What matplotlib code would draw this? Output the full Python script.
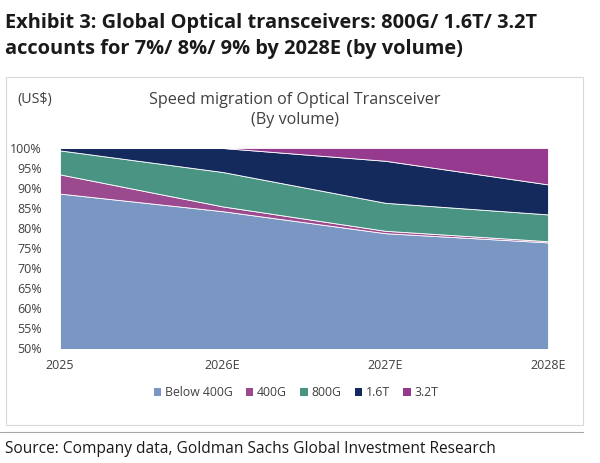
import matplotlib
matplotlib.use("Agg")
import matplotlib.pyplot as plt
from matplotlib.patches import Rectangle
from matplotlib.lines import Line2D
import numpy as np

years = ["2025", "2026E", "2027E", "2028E"]
below_400g = [88.6, 84.2, 78.7, 76.4]
g400 = [4.8, 1.2, 0.6, 0.3]
g800 = [6.0, 8.6, 7.0, 6.7]
t16 = [0.6, 6.0, 10.5, 7.5]
t32 = [0.0, 0.0, 3.2, 9.1]
series_names = ["Below 400G", "400G", "800G", "1.6T", "3.2T"]
colors = ["#7A96C3", "#9C4A90", "#4A9484", "#142A5C", "#953A8E"]
yticks = [50, 55, 60, 65, 70, 75, 80, 85, 90, 95, 100]

plt.rcParams['font.family'] = ['Open Sans', 'DejaVu Sans']

fig = plt.figure(figsize=(6, 4.63), dpi=100)
W, H = 600, 463

def fx(px):
    return px / W

def fy(py):
    return 1 - py / H

# titles
fig.text(fx(5), fy(28), "Exhibit 3: Global Optical transceivers: 800G/ 1.6T/ 3.2T",
         fontsize=14.4, fontweight='bold', color='#1a1a1a', va='baseline', ha='left')
fig.text(fx(5), fy(54), "accounts for 7%/ 8%/ 9% by 2028E (by volume)",
         fontsize=14.4, fontweight='bold', color='#1a1a1a', va='baseline', ha='left')

# chart box
fig.patches.append(Rectangle((fx(6), fy(425)), fx(583) - fx(6), fy(77) - fy(425),
                             transform=fig.transFigure, fill=False,
                             edgecolor='#d9d9d9', linewidth=0.8))
fig.text(fx(17), fy(100), "(US$)", fontsize=10.3, color='#404040', va='center', ha='left')
fig.text(fx(295), fy(100), "Speed migration of Optical Transceiver", fontsize=11.6,
         color='#404040', va='center', ha='center')
fig.text(fx(295), fy(120), "(By volume)", fontsize=11.6,
         color='#404040', va='center', ha='center')

ax = fig.add_axes([fx(60), fy(348), fx(548) - fx(60), fy(148) - fy(348)])
x = np.arange(len(years))
ax.stackplot(x, below_400g, g400, g800, t16, t32, colors=colors,
             labels=series_names, edgecolor='white', linewidth=0.6)
ax.set_xlim(0, len(years) - 1)
ax.set_ylim(50, 100)
ax.set_yticks(yticks)
ax.set_yticklabels([f"{v}%" for v in yticks])
ax.set_xticks(x)
ax.set_xticklabels(years)
for s in ax.spines.values():
    s.set_visible(False)
ax.tick_params(length=0, labelsize=9, colors='#404040')
ax.tick_params(axis='y', pad=13)
ax.tick_params(axis='x', pad=8)

handles = [Rectangle((0, 0), 1, 1, facecolor=c, edgecolor='none') for c in colors]
fig.legend(handles, series_names, loc='center', bbox_to_anchor=(fx(296), fy(393)),
           ncol=5, frameon=False, fontsize=8.8, handlelength=0.6, handleheight=0.6,
           handletextpad=0.3, columnspacing=1.1, labelcolor='#404040')

fig.add_artist(Line2D([0, fx(583)], [fy(432), fy(432)], transform=fig.transFigure,
                      color='#a6a6a6', linewidth=0.8))
fig.text(fx(5), fy(449), "Source: Company data, Goldman Sachs Global Investment Research",
         fontsize=11.2, color='#1a1a1a', va='center', ha='left')

fig.savefig("out.png", dpi=100)
